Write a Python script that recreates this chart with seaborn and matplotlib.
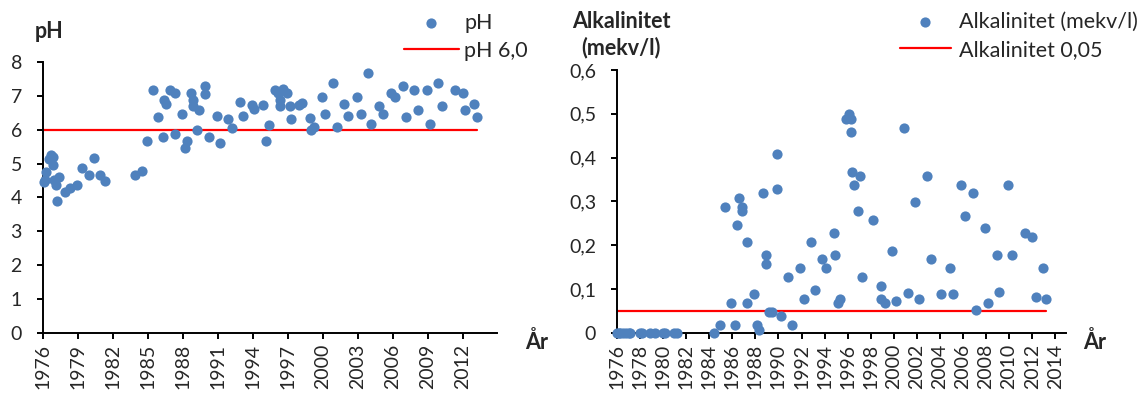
import matplotlib
matplotlib.use("Agg")
import matplotlib.pyplot as plt
import seaborn as sns

# ---------------- data ----------------
ph_year = [1976.1, 1976.2, 1976.3, 1976.55, 1976.7, 1976.9, 1976.85, 1977.0, 1977.15, 1977.4,
           1977.25, 1977.9, 1978.3, 1978.95, 1979.4, 1980.0, 1980.4, 1980.95, 1981.3, 1983.9,
           1984.5, 1984.9, 1985.45, 1985.9, 1986.3, 1986.4, 1986.6, 1986.9, 1987.35, 1987.35,
           1987.9, 1988.2, 1988.35, 1988.7, 1988.9, 1988.9, 1989.2, 1989.4, 1989.9, 1989.9,
           1990.25, 1990.9, 1991.2, 1991.9, 1992.25, 1992.9, 1993.2, 1993.9, 1994.1, 1994.9,
           1995.1, 1995.35, 1995.9, 1996.2, 1996.3, 1996.35, 1996.6, 1996.9, 1997.15, 1997.25,
           1997.95, 1998.2, 1998.9, 1998.95, 1999.25, 1999.9, 2000.2, 2000.9, 2001.2, 2001.85,
           2002.2, 2002.9, 2003.25, 2003.9, 2004.15, 2004.85, 2005.15, 2005.85, 2006.15, 2006.85,
           2007.15, 2007.85, 2008.15, 2008.9, 2009.15, 2009.9, 2010.25, 2011.35, 2012.0, 2012.2,
           2012.95, 2013.2]
ph_value = [4.44, 4.5, 4.76, 5.13, 5.26, 5.2, 4.96, 4.5, 4.37, 4.59,
            3.88, 4.17, 4.27, 4.37, 4.88, 4.66, 5.17, 4.66, 4.47, 4.66,
            4.78, 5.67, 7.18, 6.37, 5.78, 6.88, 6.77, 7.18, 7.08, 5.88,
            6.47, 5.47, 5.68, 7.08, 6.88, 6.69, 5.98, 6.59, 7.28, 7.05,
            5.77, 6.39, 5.6, 6.31, 6.05, 6.83, 6.39, 6.74, 6.61, 6.72,
            5.68, 6.14, 7.18, 7.08, 6.69, 6.88, 7.2, 7.08, 6.69, 6.31,
            6.72, 6.79, 6.34, 6.0, 6.09, 6.98, 6.47, 7.38, 6.07, 6.77,
            6.39, 6.98, 6.47, 7.67, 6.17, 6.69, 6.47, 7.08, 6.98, 7.28,
            6.37, 7.18, 6.57, 7.18, 6.17, 7.38, 6.69, 7.18, 7.08, 6.57,
            6.77, 6.37]

alk_year = [1976.0, 1976.15, 1976.3, 1976.5, 1976.8, 1977.0, 1977.15, 1977.95, 1978.15, 1978.85,
            1979.3, 1980.0, 1980.2, 1980.9, 1981.2, 1984.4, 1984.9, 1985.4, 1985.85, 1986.2,
            1986.4, 1986.55, 1986.85, 1986.85, 1987.3, 1987.25, 1987.9, 1988.15, 1988.3, 1988.65,
            1988.9, 1988.9, 1989.15, 1989.45, 1989.85, 1989.9, 1990.2, 1990.85, 1991.2, 1991.85,
            1992.25, 1992.85, 1993.2, 1993.8, 1994.1, 1994.85, 1994.9, 1995.15, 1995.35, 1995.85,
            1996.15, 1996.3, 1996.25, 1996.4, 1996.55, 1996.9, 1997.1, 1997.25, 1998.2, 1998.85,
            1998.9, 1999.2, 1999.85, 2000.2, 2000.85, 2001.2, 2001.85, 2002.2, 2002.85, 2003.2,
            2004.1, 2004.85, 2005.1, 2005.85, 2006.2, 2006.85, 2007.15, 2007.9, 2008.15, 2008.95,
            2009.15, 2009.9, 2010.25, 2011.4, 2011.95, 2012.3, 2012.9, 2013.2]
alk_value = [0, 0, 0, 0, 0, 0, 0, 0, 0, 0,
             0, 0, 0, 0, 0, 0, 0.018, 0.288, 0.067, 0.018,
             0.247, 0.308, 0.288, 0.278, 0.208, 0.067, 0.088, 0.018, 0.006, 0.318,
             0.177, 0.157, 0.048, 0.048, 0.408, 0.328, 0.038, 0.128, 0.018, 0.148,
             0.078, 0.208, 0.097, 0.168, 0.148, 0.228, 0.177, 0.067, 0.078, 0.488,
             0.499, 0.488, 0.458, 0.368, 0.337, 0.278, 0.358, 0.128, 0.257, 0.107,
             0.078, 0.067, 0.187, 0.073, 0.468, 0.091, 0.298, 0.078, 0.358, 0.168,
             0.088, 0.148, 0.088, 0.337, 0.267, 0.318, 0.052, 0.238, 0.067, 0.177,
             0.094, 0.337, 0.177, 0.228, 0.218, 0.082, 0.148, 0.078]

# gränsvärden (start- och slutår för linjen)
limit_years = [1976.0, 2013.2]
ph_limit = [6.0, 6.0]
alk_limit = [0.05, 0.05]

ph_xticks = list(range(1976, 2013, 3))
ph_yticks = [0, 1, 2, 3, 4, 5, 6, 7, 8]
alk_xticks = list(range(1976, 2015, 2))
alk_yticks = [0, 0.1, 0.2, 0.3, 0.4, 0.5, 0.6]
alk_yticklabels = ["0", "0,1", "0,2", "0,3", "0,4", "0,5", "0,6"]

# ---------------- stil ----------------
sns.set_style("ticks")
plt.rcParams['font.family'] = ['Lato', 'DejaVu Sans']
FS = 14      # tick labels
FT = 15.5    # legend, rubriker
BLUE = "#4F81BD"
RED = "#FF0000"

fig = plt.figure(figsize=(11.42, 3.94), dpi=100)
ax1 = fig.add_axes([0.0374, 0.1556, 0.3975, 0.687])
ax2 = fig.add_axes([0.5403, 0.1556, 0.3932, 0.6668])


def style_axis(ax):
    sns.despine(ax=ax)
    for side in ["left", "bottom"]:
        ax.spines[side].set_linewidth(1.4)
        ax.spines[side].set_color("black")
    ax.tick_params(axis="both", direction="out", length=4, width=1.4,
                   color="black", labelsize=FS)
    ax.tick_params(axis="y", pad=11)
    ax.tick_params(axis="x", pad=4, labelrotation=90)
    ax.set_xlabel("")
    ax.set_ylabel("")


# --- pH ---
sns.scatterplot(x=ph_year, y=ph_value, ax=ax1, color=BLUE, s=54, linewidth=0,
                label="pH", zorder=3, clip_on=False)
sns.lineplot(x=limit_years, y=ph_limit, ax=ax1, color=RED, linewidth=1.6,
             label="pH 6,0", zorder=2)
ax1.set_xlim(1976, 2014.9)
ax1.set_ylim(0, 8)
ax1.set_xticks(ph_xticks)
ax1.set_yticks(ph_yticks)
style_axis(ax1)
ax1.legend(loc="upper left", bbox_to_anchor=(404 / 1142, 1 - 13 / 394),
           bbox_transform=fig.transFigure, frameon=False, fontsize=FT,
           borderpad=0, borderaxespad=0, handlelength=2.55, handletextpad=0.25,
           labelspacing=0.36)

# --- Alkalinitet ---
sns.scatterplot(x=alk_year, y=alk_value, ax=ax2, color=BLUE, s=54, linewidth=0,
                label="Alkalinitet (mekv/l)", zorder=3, clip_on=False)
sns.lineplot(x=limit_years, y=alk_limit, ax=ax2, color=RED, linewidth=1.6,
             label="Alkalinitet 0,05", zorder=2)
ax2.set_xlim(1976, 2014.94)
ax2.set_ylim(0, 0.6)
ax2.set_xticks(alk_xticks)
ax2.set_yticks(alk_yticks)
ax2.set_yticklabels(alk_yticklabels)
style_axis(ax2)
ax2.legend(loc="upper left", bbox_to_anchor=(900 / 1142, 1 - 12 / 394),
           bbox_transform=fig.transFigure, frameon=False, fontsize=FT,
           borderpad=0, borderaxespad=0, handlelength=2.35, handletextpad=0.4,
           labelspacing=0.36)

# --- rubriker ---
fig.text(35 / 1142, 1 - 32 / 394, "pH", fontsize=FT, fontweight="bold",
         ha="left", va="center")
fig.text(621 / 1142, 1 - 21 / 394, "Alkalinitet", fontsize=FT, fontweight="bold",
         ha="center", va="center")
fig.text(621 / 1142, 1 - 48 / 394, "(mekv/l)", fontsize=FT, fontweight="bold",
         ha="center", va="center")
fig.text(537 / 1142, 1 - 342 / 394, "År", fontsize=FT, fontweight="bold",
         ha="center", va="center")
fig.text(1095 / 1142, 1 - 342 / 394, "År", fontsize=FT, fontweight="bold",
         ha="center", va="center")

fig.savefig("out.png", dpi=100)
